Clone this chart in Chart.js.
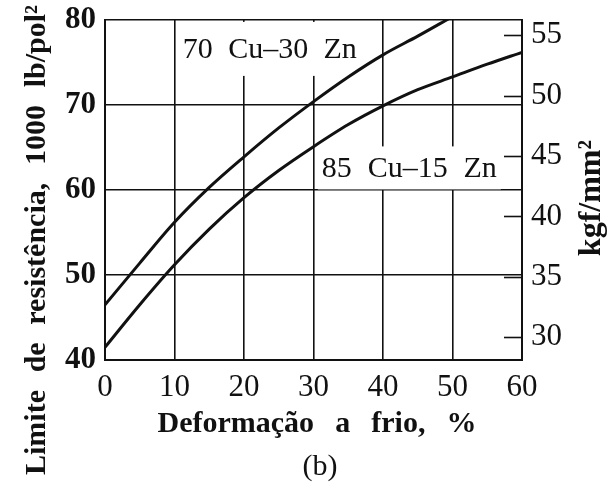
<!DOCTYPE html>
<html>
<head>
<meta charset="utf-8">
<script src="https://cdn.jsdelivr.net/npm/chart.js@4"></script>
<style>
html,body{margin:0;padding:0;background:#fff;}
#wrap{position:relative;width:610px;height:485px;}
</style>
</head>
<body>
<div id="wrap"><canvas id="c" width="610" height="485"></canvas></div>
<script>
// ---- data ----
const deformation = [0, 5, 10, 15, 20, 25, 30, 35, 40, 45, 50, 55, 60];
const cu70zn30 = [46.5, 51.4, 56.2, 60.3, 63.9, 67.3, 70.4, 73.3, 75.9, 78.1, 80.4, null, null];
const cu85zn15 = [41.5, 46.5, 51.2, 55.4, 59.1, 62.3, 65.1, 67.7, 69.9, 71.8, 73.3, 74.8, 76.2];
const xTicks = [0, 10, 20, 30, 40, 50, 60];
const ksiTicks = [40, 50, 60, 70, 80];
const kgfTicks = [30, 35, 40, 45, 50, 55];
const KSI_PER_KGF = 1.4223;
const seriesNames = ['70 Cu–30 Zn', '85 Cu–15 Zn'];
const labelAnchors = [[11.2, 76.6], [31.2, 62.6]]; // data coords (left, middle) of curve labels
const xTitle = 'Deformação a frio, %';
const yTitle = 'Limite de resistência, 1000 lb/pol²';
const y2Title = 'kgf/mm²';
const caption = '(b)';

const SERIF = '"Liberation Serif", "Times New Roman", serif';

function pts(ys) {
  return deformation.map((x, i) => ({x: x, y: ys[i]})).filter(p => p.y !== null);
}

function spaced(ctx, text, target) {
  const n = (text.match(/ /g) || []).length;
  ctx.wordSpacing = '0px';
  const w = ctx.measureText(text).width;
  if (n > 0 && target > w) ctx.wordSpacing = ((target - w) / n) + 'px';
}

const overlay = {
  id: 'overlay',
  beforeDraw(chart) {
    const ctx = chart.ctx;
    ctx.save();
    ctx.fillStyle = '#fff';
    ctx.fillRect(0, 0, chart.width, chart.height);
    ctx.restore();
  },
  beforeDatasetsDraw(chart) {
    const ctx = chart.ctx, xs = chart.scales.x, ys = chart.scales.y;
    const area = chart.chartArea;
    const targets = [174, 175];
    const halfH = [27, 21.5];
    seriesNames.forEach((name, i) => {
      ctx.save();
      ctx.font = '30px ' + SERIF;
      spaced(ctx, name, targets[i]);
      const w = ctx.measureText(name).width;
      const px = xs.getPixelForValue(labelAnchors[i][0]);
      const py = ys.getPixelForValue(labelAnchors[i][1]);
      let top = Math.max(area.top + 1.5, py - halfH[i]);
      let bot = py + halfH[i];
      ctx.fillStyle = '#fff';
      ctx.fillRect(px - 4, top, w + 8, bot - top);
      ctx.fillStyle = '#111';
      ctx.textBaseline = 'middle';
      ctx.textAlign = 'left';
      ctx.fillText(name, px, py + 1.5);
      ctx.restore();
    });
  },
  afterDatasetsDraw(chart) {
    const ctx = chart.ctx, y2 = chart.scales.y2;
    const area = chart.chartArea;
    ctx.save();
    ctx.strokeStyle = '#111';
    ctx.lineWidth = 1.6;
    kgfTicks.forEach(v => {
      const py = Math.round(y2.getPixelForValue(v)) + 0.5;
      ctx.beginPath();
      ctx.moveTo(area.right - 18, py);
      ctx.lineTo(area.right, py);
      ctx.stroke();
    });
    ctx.restore();
  },
  afterDraw(chart) {
    const ctx = chart.ctx;
    ctx.save();
    ctx.fillStyle = '#111';
    ctx.textAlign = 'center';
    ctx.textBaseline = 'middle';
    // left title
    ctx.save();
    ctx.translate(37, 240);
    ctx.rotate(-Math.PI / 2);
    ctx.font = 'bold 30px ' + SERIF;
    spaced(ctx, yTitle, 470);
    ctx.fillText(yTitle, 0, 0, 472);
    ctx.restore();
    // right title
    ctx.save();
    ctx.translate(592, 198);
    ctx.rotate(-Math.PI / 2);
    ctx.font = 'bold 32px ' + SERIF;
    ctx.wordSpacing = '0px';
    ctx.fillText(y2Title, 0, 0);
    ctx.restore();
    // x title
    ctx.font = 'bold 30px ' + SERIF;
    spaced(ctx, xTitle, 319);
    ctx.fillText(xTitle, 317, 424);
    // caption
    ctx.wordSpacing = '0px';
    ctx.font = '30px ' + SERIF;
    ctx.fillText(caption, 320, 467);
    ctx.restore();
  }
};

function fixV(w) {
  return s => { s.width = w; s.paddingTop = 0; s.paddingBottom = 0; };
}

new Chart(document.getElementById('c'), {
  type: 'line',
  data: {
    datasets: [
      {label: seriesNames[0], data: pts(cu70zn30), borderColor: '#111', borderWidth: 3,
       pointRadius: 0, tension: 0.4, cubicInterpolationMode: 'monotone', fill: false, clip: 0, yAxisID: 'y'},
      {label: seriesNames[1], data: pts(cu85zn15), borderColor: '#111', borderWidth: 3,
       pointRadius: 0, tension: 0.4, cubicInterpolationMode: 'monotone', fill: false, clip: 0, yAxisID: 'y'}
    ]
  },
  plugins: [overlay],
  options: {
    responsive: false,
    animation: false,
    devicePixelRatio: 1,
    layout: {padding: {top: 20, left: 0, right: 0, bottom: 0}},
    plugins: {legend: {display: false}, tooltip: {enabled: false}, title: {display: false}},
    scales: {
      x: {
        type: 'linear', min: 0, max: 60,
        afterBuildTicks: s => { s.ticks = xTicks.map(v => ({value: v})); },
        afterFit: s => { s.height = 125; s.paddingLeft = 0; s.paddingRight = 0; },
        grid: {color: '#111', lineWidth: 1.6, drawTicks: false},
        border: {display: true, color: '#111', width: 2},
        ticks: {color: '#111', padding: 9, font: {family: SERIF, size: 31}, maxRotation: 0}
      },
      y: {
        type: 'linear', position: 'left', min: 40, max: 80,
        afterBuildTicks: s => { s.ticks = ksiTicks.map(v => ({value: v})); },
        afterFit: fixV(105),
        grid: {color: '#111', lineWidth: 1.6, drawTicks: false},
        border: {display: true, color: '#111', width: 2},
        ticks: {color: '#111', padding: 9, font: {family: SERIF, size: 31, weight: 'bold'}}
      },
      y2: {
        type: 'linear', position: 'right', min: 40 / KSI_PER_KGF, max: 80 / KSI_PER_KGF,
        afterBuildTicks: s => { s.ticks = kgfTicks.map(v => ({value: v})); },
        afterFit: fixV(88),
        grid: {display: false, drawOnChartArea: false, drawTicks: false},
        border: {display: true, color: '#111', width: 2},
        ticks: {color: '#111', padding: 9, font: {family: SERIF, size: 31}}
      }
    }
  }
});
</script>
</body>
</html>
